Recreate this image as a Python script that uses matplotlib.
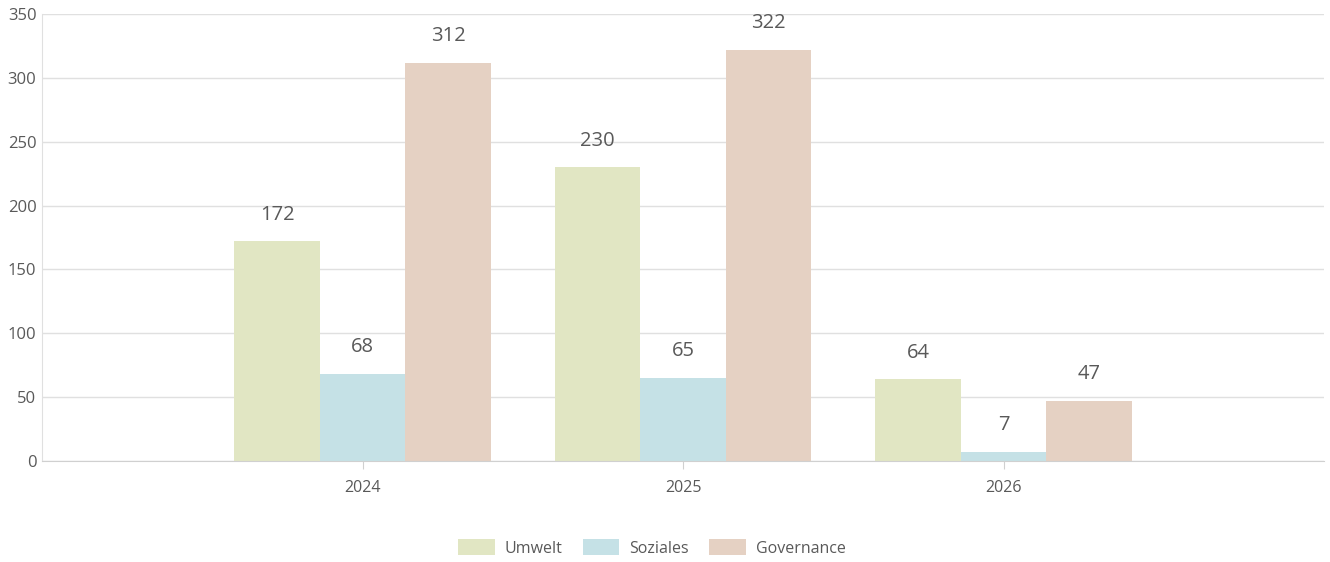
import matplotlib.pyplot as plt
import numpy as np

plt.rcParams['font.family'] = ['Open Sans', 'DejaVu Sans']

years = ['2024', '2025', '2026']
umwelt = [172, 230, 64]
soziales = [68, 65, 7]
governance = [312, 322, 47]

series = [
    ('Umwelt', umwelt, '#e1e6c3'),
    ('Soziales', soziales, '#c5e1e6'),
    ('Governance', governance, '#e5d1c3'),
]

TEXT = '#595959'
GRID = '#e0e0e0'

fig = plt.figure(figsize=(13.3, 5.62), dpi=100)
ax = fig.add_axes([0.0316, 0.1797, 0.9639, 0.7954])

x = np.arange(len(years))
width = 0.8 / len(series)

for i, (name, values, color) in enumerate(series):
    pos = x + (i - 1) * width
    bars = ax.bar(pos, values, width, color=color, label=name, zorder=2)
    for b, v in zip(bars, values):
        ax.annotate(str(v), (b.get_x() + b.get_width() / 2, v),
                    xytext=(0, 12), textcoords='offset points',
                    ha='center', va='bottom', fontsize=14.5, color=TEXT)

ax.set_xlim(-1, 3)
ax.set_ylim(0, 350)
ax.set_yticks(range(0, 351, 50))
ax.set_xticks(x)
ax.set_xticklabels(years)

ax.grid(axis='y', color=GRID, linewidth=1, zorder=0)
for s in ['top', 'right']:
    ax.spines[s].set_visible(False)
ax.spines['left'].set_color(GRID)
ax.spines['bottom'].set_color('#d0d0d0')

ax.tick_params(axis='y', length=0, labelsize=12, labelcolor=TEXT, pad=4)
ax.tick_params(axis='x', length=6, color='#d0d0d0', labelsize=11.5,
               labelcolor=TEXT, pad=8)

leg = fig.legend(loc='center', bbox_to_anchor=(0.49, 0.025), ncol=3,
                 frameon=False, fontsize=11.5, handlelength=2.3,
                 handleheight=1.15, columnspacing=1.3, handletextpad=0.6)
for t in leg.get_texts():
    t.set_color(TEXT)

fig.savefig('out.png', dpi=100)
